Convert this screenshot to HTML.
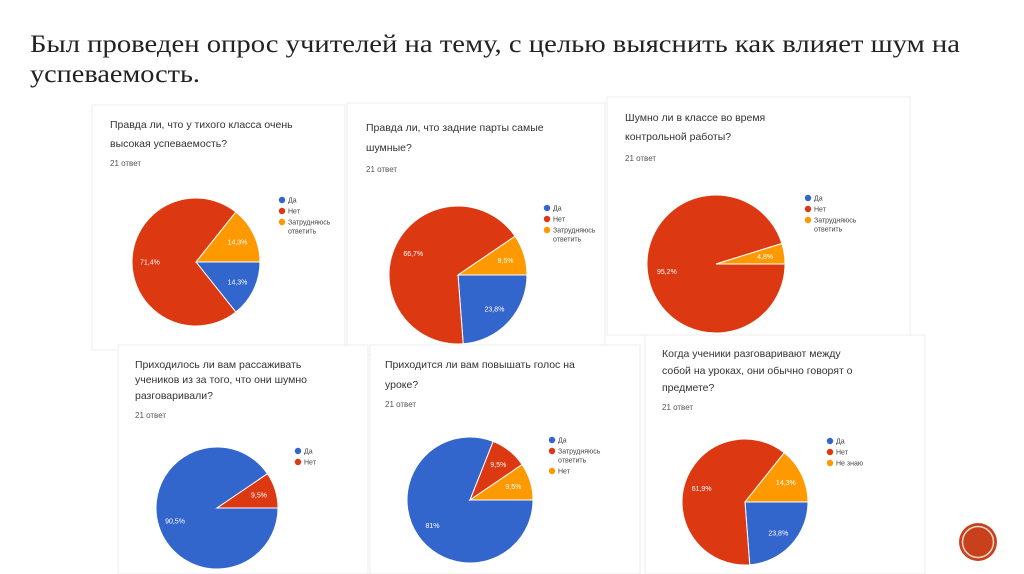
<!DOCTYPE html>
<html><head><meta charset="utf-8"><style>
html,body{margin:0;padding:0;background:#fff;width:1024px;height:574px;overflow:hidden}
svg{display:block}
text{font-family:"Liberation Sans","Noto Sans CJK SC",sans-serif}
</style></head><body>
<svg id="s" width="1024" height="574" viewBox="0 0 1024 574">
<text x="30" y="52" font-size="25" fill="#222" textLength="930" lengthAdjust="spacingAndGlyphs" style="font-family:'Liberation Serif',serif">Был проведен опрос учителей на тему, с целью выяснить как влияет шум на</text>
<text x="30" y="82" font-size="25" fill="#222" textLength="170" lengthAdjust="spacingAndGlyphs" style="font-family:'Liberation Serif',serif">успеваемость.</text>
<g id="cards"></g>
<circle cx="978" cy="542" r="19" fill="#c8401c"/>
<circle cx="978" cy="542" r="15.5" fill="none" stroke="#f3d9c8" stroke-width="1.5"/>
</svg>
<script>
const chart1Labels=["Да","Нет","Затрудняюсь ответить"];
const chart1Values=[14.3,71.4,14.3];
const chart2Labels=["Да","Нет","Затрудняюсь ответить"];
const chart2Values=[23.8,66.7,9.5];
const chart3Labels=["Да","Нет","Затрудняюсь ответить"];
const chart3Values=[0,95.2,4.8];
const chart4Labels=["Да","Нет"];
const chart4Values=[90.5,9.5];
const chart5Labels=["Да","Затрудняюсь ответить","Нет"];
const chart5Values=[81,9.5,9.5];
const chart6Labels=["Да","Нет","Не знаю"];
const chart6Values=[23.8,61.9,14.3];
const colors=["#3366cc","#dc3912","#ff9900"];
const NS="http://www.w3.org/2000/svg";
const root=document.getElementById("cards");
function mk(tag,attrs,parent){const e=document.createElementNS(NS,tag);for(const k in attrs)e.setAttribute(k,attrs[k]);parent.appendChild(e);return e;}
const cfg=[
 {box:[92,105,253,245],tx:110,ty:[128,147],title:["Правда ли, что у тихого класса очень","высокая успеваемость?"],cy0:166,cx:196,cyc:262,r:64,lx:282,ly:200,labels:chart1Labels,values:chart1Values},
 {box:[347,103,258,252],tx:366,ty:[131,151],title:["Правда ли, что задние парты самые","шумные?"],cy0:172,cx:458,cyc:275,r:69,lx:547,ly:208,labels:chart2Labels,values:chart2Values},
 {box:[607,97,303,238],tx:625,ty:[121,140],title:["Шумно ли в классе во время","контрольной работы?"],cy0:161,cx:716,cyc:264,r:69,lx:808,ly:198,labels:chart3Labels,values:chart3Values},
 {box:[118,345,250,229],tx:135,ty:[368,383,399],title:["Приходилось ли вам рассаживать","учеников из за того, что они шумно","разговаривали?"],cy0:418,cx:217,cyc:508,r:61,lx:298,ly:451,labels:chart4Labels,values:chart4Values},
 {box:[370,345,270,229],tx:385,ty:[368,388],title:["Приходится ли вам повышать голос на","уроке?"],cy0:407,cx:470,cyc:500,r:63,lx:552,ly:440,labels:chart5Labels,values:chart5Values},
 {box:[645,335,280,239],tx:662,ty:[357,374,391],title:["Когда ученики разговаривают между","собой на уроках, они обычно говорят о","предмете?"],cy0:410,cx:745,cyc:502,r:63,lx:830,ly:441,labels:chart6Labels,values:chart6Values}
];
cfg.forEach((c,i)=>{
 const g=mk("g",{},root);
 
 
 const rc=mk("rect",{x:c.box[0],y:c.box[1],width:c.box[2],height:c.box[3],fill:"#fff",stroke:"#ececec","stroke-width":1},g);
 
 
 c.title.forEach((t,j)=>{const te=mk("text",{x:c.tx,y:c.ty[j],"font-size":10.5,fill:"#333"},g);te.textContent=t;
  
  });
 const rt=mk("text",{x:c.tx,y:c.cy0,"font-size":8,fill:"#555"},g);rt.textContent="21 ответ";
 
 
 const total=c.values.reduce((a,b)=>a+b,0);
 let a0=0;
 c.values.forEach((v,k)=>{
  if(v<=0)return;
  const a1=a0+v/total*2*Math.PI;
  const x0=c.cx+c.r*Math.cos(a0),y0=c.cyc+c.r*Math.sin(a0),x1=c.cx+c.r*Math.cos(a1),y1=c.cyc+c.r*Math.sin(a1);
  const large=(a1-a0)>Math.PI?1:0;
  const p=mk("path",{d:`M${c.cx},${c.cyc}L${x0},${y0}A${c.r},${c.r} 0 ${large} 1 ${x1},${y1}Z`,fill:colors[k],stroke:"#fff","stroke-width":1},g);
  
  
  const am=(a0+a1)/2,rr=c.r*0.72;
  const lt=mk("text",{x:c.cx+rr*Math.cos(am),y:c.cyc+rr*Math.sin(am)+2.5,"font-size":7,fill:"#fff","text-anchor":"middle"},g);
  lt.textContent=String(v).replace(".",",")+"%";
  
  
  a0=a1;
 });
 let y=c.ly;
 c.labels.forEach((l,k)=>{
  const dot=mk("circle",{cx:c.lx,cy:y,r:3.2,fill:colors[k]},g);
  
  
  const words=l==="Затрудняюсь ответить"?["Затрудняюсь","ответить"]:[l];
  words.forEach((w,j)=>{const t=mk("text",{x:c.lx+6,y:y+2.5+j*9,"font-size":7,fill:"#444"},g);t.textContent=w;
   
   });
  y+=11+(words.length-1)*9;
 });
});
</script>
</body></html>
